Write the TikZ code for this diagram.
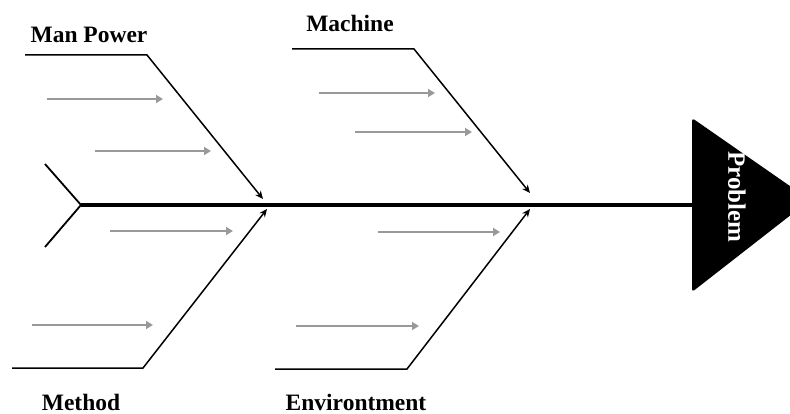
\documentclass[tikz,border=0pt]{standalone}
\usepackage{fontspec}
\setmainfont{Liberation Serif}
\usetikzlibrary{arrows.meta}
\begin{document}
\begin{tikzpicture}[x=1pt,y=-1pt,line join=round,
    bone/.style={line width=1.5pt,-{Stealth[length=8pt,width=7pt]}},
    cause/.style={draw=black!40,line width=2.4pt,-{Triangle[length=7pt,width=8pt]}},
    bonetext/.style={font=\bfseries\fontsize{23.5}{26}\selectfont,anchor=base}]
  \useasboundingbox (0,0) rectangle (790,414);
  \clip (0,0) rectangle (790,414);
  % head
  \fill[rounded corners=3pt]
    (692,118) -- (810,200) -- (692,292) -- cycle;
  \node[white,font=\bfseries\fontsize{25}{28}\selectfont,rotate=-90]
    (problem) at (737,197) {Problem};
  % spine and tail
  \coordinate (tail) at (81,205);
  \coordinate (head) at (692,205);
  \coordinate (tailup) at (45,164);
  \coordinate (taildown) at (45,247);
  \draw[line width=4pt] (tail) -- (head);
  \draw[line width=1.8pt] (tailup) -- (tail) -- (taildown);
  % bones
  \coordinate (mp1) at (25,55);   \coordinate (mp2) at (147,55);
  \coordinate (mp3) at (263,199);
  \coordinate (ma1) at (292,49);  \coordinate (ma2) at (414,49);
  \coordinate (ma3) at (530,193);
  \coordinate (me1) at (12,368);  \coordinate (me2) at (143,368);
  \coordinate (me3) at (267,209);
  \coordinate (en1) at (275,369); \coordinate (en2) at (407,369);
  \coordinate (en3) at (530,209);
  \draw[bone] (mp1) -- (mp2) -- (mp3);
  \draw[bone] (ma1) -- (ma2) -- (ma3);
  \draw[bone] (me1) -- (me2) -- (me3);
  \draw[bone] (en1) -- (en2) -- (en3);
  \node[bonetext] (manpower) at (89,43) {Man Power};
  \node[bonetext] (machine) at (350,32) {Machine};
  \node[bonetext] (method) at (81,410) {Method};
  \node[bonetext] (environtment) at (356,410) {Environtment};
  % causes
  \foreach \i/\a/\b/\y in {1/47/163/99, 2/95/211/151, 3/319/435/93, 4/355/472/132,
      5/110/233/231, 6/32/153/325, 7/378/500/232, 8/296/419/326} {
    \coordinate (c\i a) at (\a,\y);
    \coordinate (c\i b) at (\b,\y);
    \draw[cause] (c\i a) -- (c\i b);
  }
\end{tikzpicture}
\end{document}
